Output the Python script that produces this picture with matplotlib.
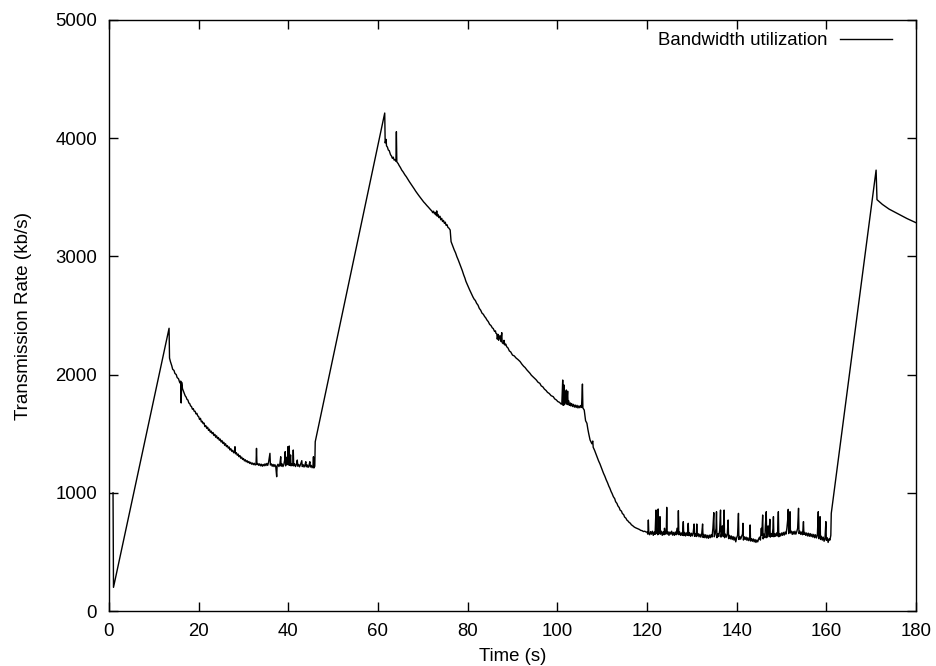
import matplotlib
matplotlib.use("Agg")
import matplotlib.pyplot as plt

plt.rcParams['font.family'] = ['Liberation Sans', 'DejaVu Sans']

# ---- data (time in s, rate in kb/s) ----
start_pts = [(0.9, 1000), (1.0, 200), (13.4, 2392)]

decay1_pts = [
    (13.5, 2140), (13.7, 2110), (14.0, 2075), (14.2, 2045), (14.5, 2035), (14.7, 2010),
    (15.0, 2000), (15.2, 1975), (15.5, 1965), (15.8, 1930), (16.0, 1945), (16.1, 1760),
    (16.2, 1935), (16.4, 1880), (16.6, 1860), (16.8, 1840), (17.0, 1820), (17.2, 1810),
    (17.4, 1790), (17.6, 1785), (17.8, 1760), (18.0, 1755), (18.2, 1735), (18.4, 1730),
    (18.6, 1708), (18.8, 1712), (19.0, 1690), (19.2, 1690), (19.4, 1668), (19.6, 1672),
    (19.8, 1650), (20.0, 1645), (20.2, 1620), (20.4, 1630), (20.6, 1600), (20.8, 1605),
    (21.0, 1585), (21.2, 1590), (21.4, 1560), (21.6, 1568), (21.8, 1545), (22.0, 1555),
    (22.2, 1528), (22.4, 1538), (22.6, 1512), (22.8, 1522), (23.0, 1500), (23.2, 1510),
    (23.4, 1485), (23.6, 1495), (23.8, 1470), (24.0, 1482), (24.2, 1458), (24.4, 1468),
    (24.6, 1445), (24.8, 1455), (25.0, 1430), (25.2, 1442), (25.4, 1418), (25.6, 1428),
    (25.8, 1402), (26.0, 1415), (26.2, 1390), (26.4, 1400), (26.6, 1378), (26.8, 1388),
    (27.0, 1362), (27.2, 1372), (27.4, 1350), (27.6, 1360), (27.8, 1338), (28.0, 1348),
    (28.1, 1390), (28.2, 1330), (28.4, 1340), (28.6, 1318), (28.8, 1328), (29.0, 1305),
    (29.2, 1315), (29.4, 1292), (29.6, 1302), (29.8, 1282), (30.0, 1290), (30.2, 1270),
    (30.4, 1280), (30.6, 1262), (30.8, 1272), (31.0, 1255), (31.2, 1265), (31.4, 1248),
    (31.6, 1258), (31.8, 1242), (32.0, 1252), (32.2, 1238), (32.4, 1250), (32.6, 1235),
    (32.8, 1245), (32.9, 1376), (33.0, 1238), (33.2, 1248), (33.4, 1232), (33.6, 1245),
    (33.8, 1228), (34.0, 1242), (34.2, 1225), (34.4, 1240), (34.6, 1228), (34.8, 1245),
    (35.0, 1230), (35.2, 1248), (35.4, 1232), (35.6, 1260), (35.9, 1334), (36.0, 1235),
    (36.2, 1245), (36.4, 1225), (36.6, 1240), (36.8, 1222), (37.0, 1238), (37.2, 1220),
    (37.4, 1136), (37.5, 1230), (37.7, 1242), (37.9, 1222), (38.1, 1240), (38.3, 1305),
    (38.4, 1225), (38.6, 1245), (38.8, 1222), (39.0, 1240), (39.2, 1280), (39.3, 1348),
    (39.4, 1228), (39.6, 1300), (39.8, 1240), (39.9, 1390), (40.0, 1235), (40.2, 1396),
    (40.3, 1232), (40.5, 1320), (40.6, 1228), (40.8, 1245), (41.0, 1230), (41.1, 1362),
    (41.2, 1228), (41.4, 1245), (41.6, 1222), (41.8, 1240), (42.0, 1277), (42.1, 1225),
    (42.3, 1240), (42.5, 1220), (42.7, 1238), (43.0, 1272), (43.1, 1222), (43.3, 1238),
    (43.5, 1218), (43.7, 1235), (43.9, 1263), (44.0, 1220), (44.2, 1236), (44.4, 1215),
    (44.6, 1232), (44.8, 1263), (44.9, 1218), (45.1, 1232), (45.3, 1212), (45.5, 1230),
    (45.6, 1305), (45.7, 1210), (45.9, 1225), (46.0, 1432)]

decay2_pts = [
    (61.5, 4213), (61.6, 3960), (61.8, 3990), (61.9, 3935), (62.1, 3925), (62.3, 3900),
    (62.5, 3895), (62.8, 3860), (63.0, 3850), (63.2, 3830), (63.4, 3840), (63.6, 3815),
    (63.8, 3818), (64.0, 3805), (64.1, 4055), (64.2, 3800), (64.5, 3785), (64.7, 3770),
    (65.0, 3752), (65.3, 3730), (65.6, 3715), (66.0, 3690), (66.3, 3675), (66.7, 3650),
    (67.0, 3632), (67.4, 3610), (67.7, 3592), (68.1, 3570), (68.4, 3552), (68.8, 3530),
    (69.1, 3515), (69.5, 3495), (69.8, 3480), (70.2, 3460), (70.5, 3448), (70.9, 3430),
    (71.2, 3418), (71.6, 3400), (71.8, 3392), (72.0, 3385), (72.2, 3370), (72.4, 3382),
    (72.6, 3360), (72.8, 3372), (73.0, 3348), (73.1, 3385), (73.2, 3340), (73.4, 3355),
    (73.6, 3328), (73.8, 3340), (74.0, 3310), (74.2, 3322), (74.4, 3295), (74.6, 3305),
    (74.8, 3280), (75.0, 3290), (75.2, 3262), (75.4, 3268), (75.6, 3245), (75.8, 3240),
    (76.1, 3223), (76.3, 3125), (76.6, 3095), (77.0, 3055), (77.3, 3030), (77.6, 2997),
    (77.9, 2970), (78.2, 2940), (78.5, 2908), (78.8, 2880), (79.1, 2845), (79.4, 2815),
    (79.6, 2790), (79.8, 2772), (80.1, 2745), (80.4, 2720), (80.7, 2695), (81.0, 2670),
    (81.2, 2655), (81.5, 2635), (81.7, 2628), (82.0, 2603), (82.3, 2588), (82.6, 2560),
    (82.9, 2545), (83.2, 2520), (83.5, 2510), (83.8, 2490), (84.0, 2482), (84.3, 2462),
    (84.6, 2448), (84.9, 2425), (85.2, 2415), (85.5, 2395), (85.7, 2390), (86.0, 2365),
    (86.2, 2370), (86.3, 2350), (86.5, 2345), (86.6, 2300), (86.8, 2340), (86.9, 2290),
    (87.2, 2330), (87.4, 2280), (87.6, 2355), (87.7, 2270), (88.0, 2260), (88.1, 2290),
    (88.3, 2250), (88.5, 2258), (88.7, 2236), (89.0, 2225), (89.3, 2200), (89.6, 2192),
    (90.0, 2165), (90.4, 2158), (90.8, 2140), (91.2, 2128), (91.7, 2110), (92.1, 2088),
    (92.5, 2070), (92.8, 2060), (93.2, 2040), (93.5, 2028), (93.9, 2011), (94.2, 1995),
    (94.6, 1980), (94.9, 1970), (95.3, 1955), (95.7, 1935), (96.1, 1926), (96.4, 1905),
    (96.8, 1895), (97.1, 1878), (97.5, 1865), (97.8, 1850), (98.2, 1840), (98.6, 1822),
    (99.1, 1813), (99.4, 1795), (99.8, 1785), (100.1, 1772), (100.5, 1765), (100.8, 1752),
    (101.0, 1750), (101.2, 1954), (101.3, 1740), (101.5, 1912), (101.6, 1745), (101.8, 1850),
    (101.9, 1760), (102.0, 1870), (102.1, 1750), (102.3, 1860), (102.4, 1745), (102.5, 1780),
    (102.7, 1740), (102.9, 1760), (103.0, 1735), (103.2, 1755), (103.4, 1730), (103.6, 1748),
    (103.8, 1725), (104.0, 1742), (104.2, 1722), (104.4, 1740), (104.6, 1718), (104.8, 1735),
    (105.0, 1720), (105.2, 1738), (105.4, 1722), (105.6, 1920), (105.7, 1718), (106.0, 1700),
    (106.3, 1610), (106.6, 1588), (106.8, 1540), (107.0, 1500), (107.3, 1447), (107.5, 1430),
    (107.7, 1415), (107.9, 1438), (108.0, 1385), (108.3, 1360), (108.6, 1330), (108.9, 1298),
    (109.2, 1270), (109.5, 1245), (109.8, 1215), (110.0, 1195), (110.3, 1165), (110.6, 1140),
    (110.9, 1110), (111.2, 1085), (111.5, 1055), (111.7, 1040), (112.0, 1010), (112.2, 995),
    (112.5, 967), (112.8, 950), (113.0, 925), (113.3, 910), (113.5, 890), (113.8, 875),
    (114.0, 854), (114.3, 845), (114.5, 825), (114.8, 815), (115.0, 795), (115.3, 785),
    (115.5, 770), (115.8, 760), (116.0, 750), (116.3, 742), (116.5, 730), (116.8, 722),
    (117.1, 712), (117.4, 705), (117.7, 700), (118.0, 695), (118.3, 690), (118.6, 682),
    (118.9, 680), (119.2, 672), (119.5, 675), (119.8, 668)]

flat_pts = [
    (120.0, 668), (120.2, 650), (120.3, 770), (120.4, 660), (120.6, 645), (120.8, 672),
    (121.0, 650), (121.2, 675), (121.4, 640), (121.6, 668), (121.8, 648), (122.0, 854),
    (122.1, 655), (122.3, 690), (122.4, 645), (122.5, 863), (122.6, 650), (122.8, 670),
    (122.9, 798), (123.0, 650), (123.2, 675), (123.4, 640), (123.6, 670), (123.8, 645),
    (123.9, 700), (124.1, 650), (124.3, 668), (124.4, 877), (124.5, 650), (124.7, 670),
    (124.9, 640), (125.1, 668), (125.3, 650), (125.5, 675), (125.7, 642), (125.9, 665),
    (126.1, 640), (126.3, 668), (126.5, 645), (126.7, 700), (126.9, 650), (127.0, 849),
    (127.1, 645), (127.3, 668), (127.5, 640), (127.7, 660), (127.9, 640), (128.1, 756),
    (128.2, 638), (128.4, 665), (128.6, 635), (128.8, 660), (129.0, 640), (129.2, 742),
    (129.3, 638), (129.5, 662), (129.7, 632), (129.9, 658), (130.1, 635), (130.3, 660),
    (130.5, 736), (130.6, 632), (130.8, 655), (131.0, 630), (131.1, 736), (131.2, 635),
    (131.4, 655), (131.6, 628), (131.8, 650), (132.0, 625), (132.2, 650), (132.4, 736),
    (132.5, 622), (132.7, 648), (132.9, 620), (133.1, 645), (133.3, 618), (133.5, 640),
    (133.7, 615), (133.9, 642), (134.1, 620), (134.3, 645), (134.5, 625), (134.7, 700),
    (134.9, 832), (135.0, 628), (135.2, 650), (135.4, 700), (135.5, 840), (135.6, 620),
    (135.8, 655), (136.0, 630), (136.2, 680), (136.4, 854), (136.5, 625), (136.7, 660),
    (136.8, 720), (137.0, 630), (137.2, 854), (137.3, 620), (137.5, 650), (137.7, 625),
    (137.9, 648), (138.1, 770), (138.2, 612), (138.4, 640), (138.6, 610), (138.8, 635),
    (139.0, 605), (139.2, 630), (139.4, 600), (139.6, 625), (139.8, 585), (140.0, 620),
    (140.2, 640), (140.4, 826), (140.5, 605), (140.7, 630), (140.9, 608), (141.1, 632),
    (141.3, 650), (141.4, 742), (141.5, 600), (141.7, 628), (141.9, 605), (142.1, 625),
    (142.3, 598), (142.5, 620), (142.7, 595), (142.9, 615), (143.0, 728), (143.1, 592),
    (143.3, 612), (143.5, 590), (143.7, 610), (143.9, 585), (144.1, 605), (144.3, 580),
    (144.5, 600), (144.7, 585), (144.9, 610), (145.1, 625), (145.3, 600), (145.5, 700),
    (145.6, 640), (145.8, 812), (145.9, 610), (146.1, 650), (146.3, 620), (146.4, 720),
    (146.6, 840), (146.7, 620), (146.9, 660), (147.0, 720), (147.2, 630), (147.4, 776),
    (147.5, 625), (147.7, 655), (147.9, 630), (148.1, 700), (148.2, 798), (148.3, 628),
    (148.5, 655), (148.7, 632), (148.9, 660), (149.1, 635), (149.3, 840), (149.4, 628),
    (149.6, 655), (149.8, 635), (150.0, 660), (150.2, 640), (150.4, 665), (150.6, 642),
    (150.8, 668), (151.0, 650), (151.2, 700), (151.4, 780), (151.5, 860), (151.6, 655),
    (151.8, 700), (151.9, 840), (152.0, 660), (152.2, 675), (152.4, 648), (152.6, 672),
    (152.8, 650), (153.0, 675), (153.2, 650), (153.4, 670), (153.6, 700), (153.8, 869),
    (153.9, 655), (154.1, 675), (154.3, 648), (154.5, 668), (154.7, 645), (154.9, 756),
    (155.0, 648), (155.2, 665), (155.4, 640), (155.6, 660), (155.8, 635), (156.0, 658),
    (156.2, 632), (156.4, 655), (156.6, 630), (156.8, 650), (157.0, 625), (157.2, 648),
    (157.4, 620), (157.6, 645), (157.8, 618), (158.0, 640), (158.2, 840), (158.3, 612),
    (158.5, 700), (158.6, 798), (158.7, 605), (158.9, 632), (159.1, 600), (159.3, 625),
    (159.5, 590), (159.7, 615), (159.9, 756), (160.0, 598), (160.2, 620), (160.4, 580),
    (160.6, 610), (160.8, 600), (161.0, 640), (161.1, 826)]

end_pts = [(171.1, 3730), (171.3, 3480), (172.5, 3440), (174.0, 3400),
           (176.0, 3360), (178.0, 3320), (180.0, 3285)]

series_label = 'Bandwidth utilization'
x_ticks = [0, 20, 40, 60, 80, 100, 120, 140, 160, 180]
y_ticks = [0, 1000, 2000, 3000, 4000, 5000]

all_pts = start_pts + decay1_pts + decay2_pts + flat_pts + end_pts
t_all = [p[0] for p in all_pts]
v_all = [p[1] for p in all_pts]

fig = plt.figure(figsize=(9.37, 6.66), dpi=100)
ax = fig.add_axes([109/937, 55/666, 807/937, 591/666])
ax.plot(t_all, v_all, color='black', linewidth=1.0, label=series_label)
ax.set_xlim(0, 180)
ax.set_ylim(0, 5000)
ax.set_xticks(x_ticks)
ax.set_yticks(y_ticks)
ax.tick_params(direction='in', length=6.5, width=1.0, top=True, right=True,
               labelsize=13.4, pad=8.5)
for s in ax.spines.values():
    s.set_linewidth(1.0)
ax.set_xlabel('Time (s)', fontsize=13.4, labelpad=6)
ax.set_ylabel('Transmission Rate (kb/s)', fontsize=13.6, labelpad=17)
ax.legend(loc='upper right', frameon=False, markerfirst=False, fontsize=13.4,
          handlelength=2.8, handletextpad=0.65, borderaxespad=0.2,
          bbox_to_anchor=(0.984, 0.998))
fig.savefig('out.png', dpi=100)
